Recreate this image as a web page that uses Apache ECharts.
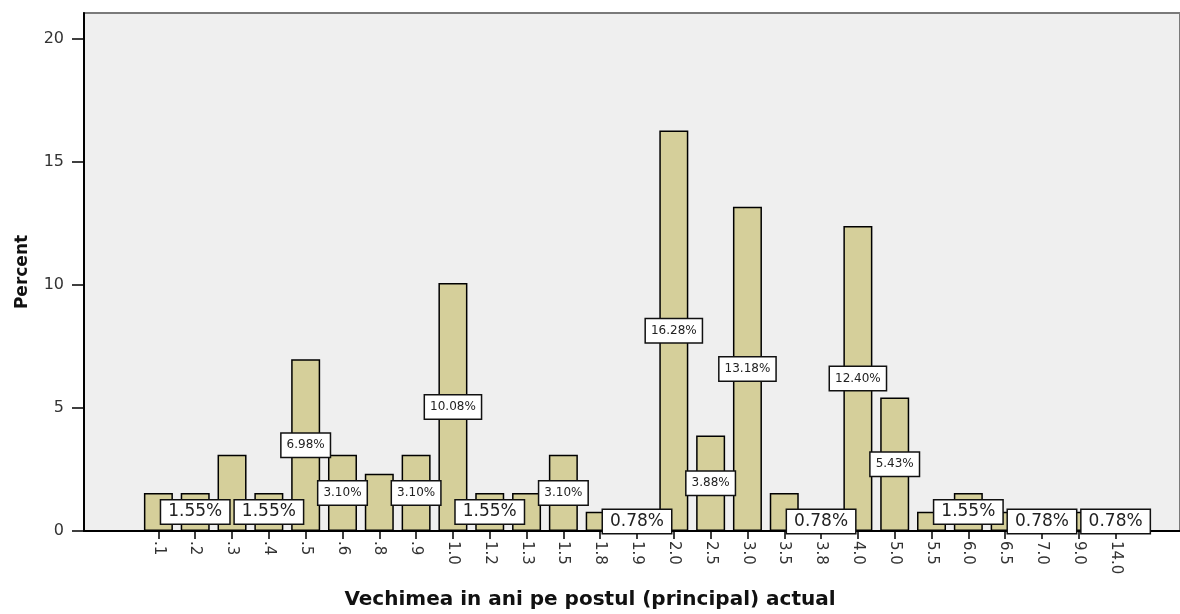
<!DOCTYPE html>
<html>
<head>
<meta charset="utf-8">
<script src="https://cdn.jsdelivr.net/npm/echarts@6/dist/echarts.min.js"></script>
<style>
  html, body { margin: 0; padding: 0; background: #fff; }
  #chart { width: 1180px; height: 614px; }
</style>
</head>
<body>
<div id="chart"></div>
<script>
// Vechimea in ani - percent per category
var categories = ['.1', '.2', '.3', '.4', '.5', '.6', '.8', '.9', '1.0', '1.2', '1.3', '1.5', '1.8', '1.9',
    '2.0', '2.5', '3.0', '3.5', '3.8', '4.0', '5.0', '5.5', '6.0', '6.5', '7.0', '9.0', '14.0'];
var percents = [1.55, 1.55, 3.10, 1.55, 6.98, 3.10, 2.33, 3.10, 10.08, 1.55, 1.55, 3.10, 0.78, 0.78,
    16.28, 3.88, 13.18, 1.55, 0.78, 12.40, 5.43, 0.78, 1.55, 0.78, 0.78, 0.78, 0.78];
var yTicks = [0, 5, 10, 15, 20];

// which bars carry a visible label (SPSS hid the rest), small or large text
var smallLabelCats = ['.5', '.6', '.9', '1.0', '1.5', '2.0', '2.5', '3.0', '4.0', '5.0'];
var bigLabelCats = ['.2', '.4', '1.2', '1.9', '3.8', '6.0', '7.0', '14.0'];

var yMax = 21.06;
var font = 'DejaVu Sans';

var barData = percents.map(function (v, i) {
    var c = categories[i];
    var item = {value: v};
    if (smallLabelCats.indexOf(c) >= 0) {
        item.label = {show: true, fontSize: 12, padding: [6, 5, 5, 5]};
    } else if (bigLabelCats.indexOf(c) >= 0) {
        item.label = {show: true, fontSize: 17, padding: [3, 7, 3, 7]};
    } else {
        item.label = {show: false};
    }
    return item;
});

var chart = echarts.init(document.getElementById('chart'));

var option = {
    backgroundColor: '#fff',
    animation: false,
    title: {
        text: 'Vechimea in ani pe postul (principal) actual',
        left: 'center',
        top: 585,
        textStyle: {fontFamily: font, fontWeight: 'bold', fontSize: 20, color: '#111'}
    },
    grid: [
        // plot frame
        {left: 84, right: -10, top: 13, bottom: 83, show: true, backgroundColor: '#efefef',
            borderColor: '#7a7a7a', borderWidth: 2},
        // bar area
        {left: 140, width: 994, top: 13, bottom: 83}
    ],
    xAxis: [
        {
            gridIndex: 0, type: 'value', min: 0, max: 1,
            axisLine: {show: true, lineStyle: {color: '#000', width: 2}},
            axisTick: {show: false}, axisLabel: {show: false}, splitLine: {show: false}
        },
        {
            gridIndex: 1, type: 'category', data: categories,
            axisLine: {show: false},
            axisTick: {show: true, alignWithLabel: true, length: 8, lineStyle: {color: '#000', width: 1.5}},
            axisLabel: {rotate: -90, margin: 10, interval: 0, fontFamily: font, fontSize: 15, color: '#333'},
            splitLine: {show: false}
        }
    ],
    yAxis: [
        {
            gridIndex: 0, type: 'value', min: 0, max: yMax,
            name: 'Percent', nameLocation: 'middle', nameGap: 53, nameRotate: 90,
            nameTextStyle: {fontFamily: font, fontWeight: 'bold', fontSize: 17, color: '#111'},
            axisLine: {show: true, lineStyle: {color: '#000', width: 2}},
            axisTick: {show: true, length: 12, customValues: yTicks, lineStyle: {color: '#000', width: 1.5}},
            axisLabel: {customValues: yTicks, margin: 20, fontFamily: font, fontSize: 16, color: '#333'},
            splitLine: {show: false}
        },
        {
            gridIndex: 1, type: 'value', min: 0, max: yMax, show: false
        }
    ],
    series: [{
        type: 'bar',
        xAxisIndex: 1,
        yAxisIndex: 1,
        barWidth: 29,
        data: barData,
        itemStyle: {color: '#d5cf9a', borderColor: '#000', borderWidth: 1.5},
        label: {
            position: 'inside',
            fontFamily: font,
            color: '#222',
            backgroundColor: '#fff',
            borderColor: '#111',
            borderWidth: 1.5,
            formatter: function (p) { return p.value.toFixed(2) + '%'; }
        }
    }]
};

chart.setOption(option);
</script>
</body>
</html>
